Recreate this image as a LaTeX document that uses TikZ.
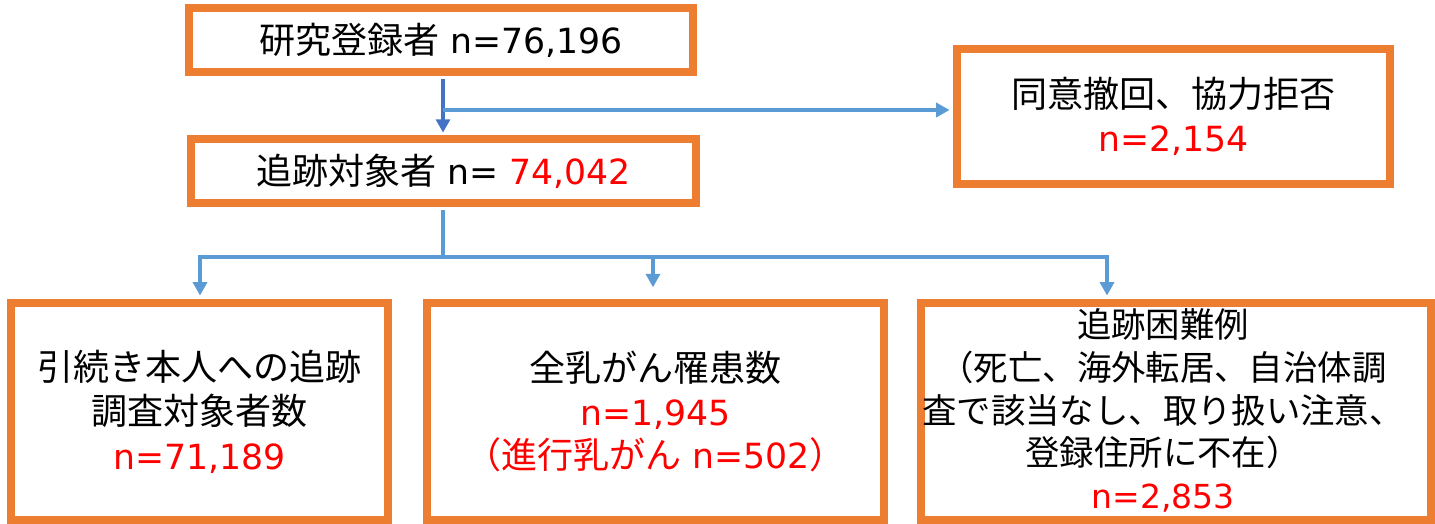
\documentclass[tikz,border=0pt]{standalone}
\usepackage{fontspec}
\setmainfont{DejaVu Sans}
\newfontfamily\jp{Noto Sans CJK JP}[Scale=1.04]
\usetikzlibrary{arrows.meta}
\definecolor{borange}{HTML}{ED7D31}
\definecolor{lblue}{HTML}{5B9BD5}
\definecolor{dblue}{HTML}{4472C4}
\definecolor{nred}{HTML}{FF0000}
\begin{document}
\begin{tikzpicture}[x=0.75pt,y=-0.75pt,
  box/.style={draw=borange, line width=5.6pt, fill=white, inner sep=0pt, rectangle},
  txt/.style={align=center, font=\fontsize{26}{32.5}\selectfont, inner sep=0pt},
  conn/.style={draw=lblue, line width=2.4pt},
  arr/.style={conn, -{Triangle[length=10pt,width=10.5pt]}},
  darr/.style={arr, draw=dblue}]
\useasboundingbox (0,0) rectangle (1435,524);
% boxes
\node[box, txt, minimum width=378pt, minimum height=48pt] (b1) at (441,40)
  {{\jp 研究登録者} n=76,196};
\node[box, txt, minimum width=378.75pt, minimum height=48pt] (b2) at (443.5,171)
  {{\jp 追跡対象者} n= \textcolor{nred}{74,042}};
\node[box, txt, minimum width=324.75pt, minimum height=101.25pt] (b3) at (1173.5,116.5)
  {{\jp 同意撤回、協力拒否}\\ \textcolor{nred}{n=2,154}};
\node[box, txt, font=\fontsize{26}{33.5}\selectfont, minimum width=282.75pt, minimum height=162.75pt] (bl) at (199.5,411.5)
  {{\jp 引続き本人への追跡}\\ {\jp 調査対象者数}\\ \textcolor{nred}{n=71,189}};
\node[box, txt, minimum width=342.75pt, minimum height=162.75pt] (bm) at (655.5,411.5)
  {{\jp 全乳がん罹患数}\\ \textcolor{nred}{n=1,945}\\ \textcolor{nred}{{\jp （進行乳がん} n=502{\jp ）}}};
\node[box, minimum width=382.5pt, minimum height=162.75pt] (br) at (1176,411.5) {};
\node[txt, font=\fontsize{24.8}{32}\selectfont] (brt) at (1163,410.5)
  {{\jp 追跡困難例}\\
   {\jp （死亡、海外転居、自治体調}\\
   {\jp 査で該当なし、取り扱い注意、}\\
   {\jp 登録住所に不在）}\hspace*{18pt}\\
   \textcolor{nred}{n=2,853}};
% connectors
\coordinate (j1) at (443,110);
\coordinate (j2) at (443,257);
\coordinate (jl) at (200,257);
\coordinate (jm) at (653,257);
\coordinate (jr) at (1107,257);
\draw[darr, shorten <=2.8pt, shorten >=2pt] (b1.south -| j1) -- (b2.north -| j1);
\draw[arr, shorten >=2.8pt] (j1) -- (j1 -| b3.west);
\draw[conn, shorten <=2.8pt] (b2.south -| j2) -- (j2);
\draw[conn, line cap=rect] (jl) -- (jr);
\draw[arr, shorten >=2.8pt] (jl) -- (bl.north -| jl);
\draw[arr, shorten >=9pt] (jm) -- (bm.north -| jm);
\draw[arr, shorten >=2.8pt] (jr) -- (br.north -| jr);
\end{tikzpicture}
\end{document}
